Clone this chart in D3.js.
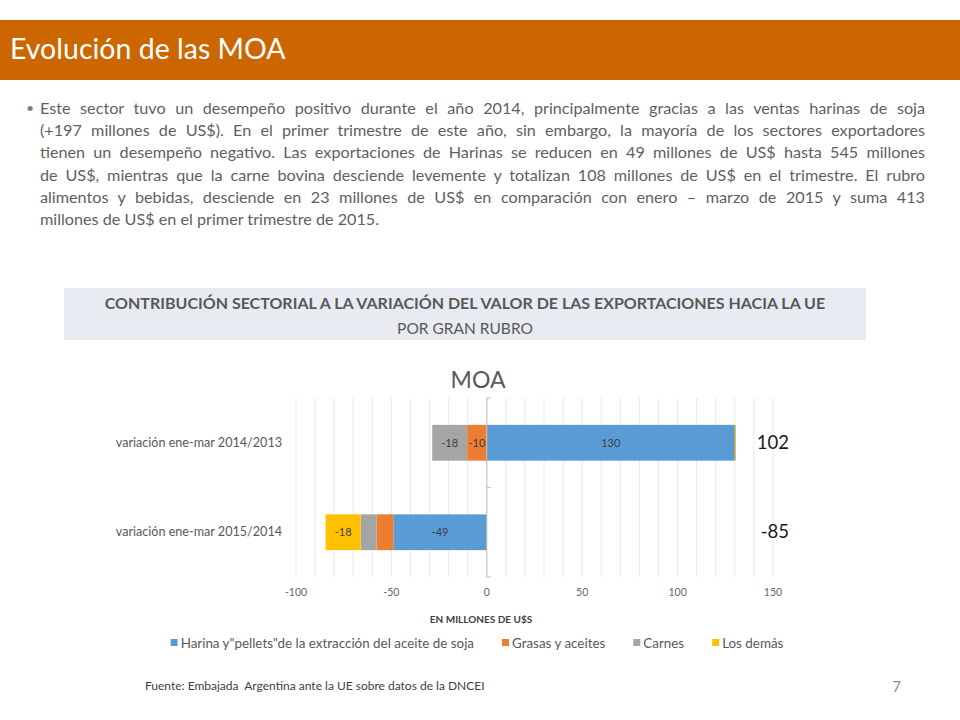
<!DOCTYPE html>
<html>
<head>
<meta charset="utf-8">
<script src="https://cdn.jsdelivr.net/npm/d3@7"></script>
<style>
  body { margin: 0; background: #fff; }
  #page { position: relative; width: 960px; height: 720px; overflow: hidden; font-family: Lato, "Open Sans", sans-serif; }
  #para { position: absolute; left: 40px; top: 97px; width: 885px; font-size: 16.2px; line-height: 22.2px; color: #5f5f5f; }
  #para div { text-align: justify; text-align-last: justify; white-space: nowrap; }
  #para div.last { text-align-last: left; }
  #bullet { position: absolute; left: 26px; top: 97px; font-size: 14px; line-height: 22.2px; color: #7f7f7f; }
  svg { position: absolute; left: 0; top: 0; }
</style>
</head>
<body>
<div id="page"></div>
<script>
// chart values
const categories = ["variación ene-mar 2014/2013", "variación ene-mar 2015/2014"];
const seriesNames = ["Harina y\"pellets\"de la extracción del aceite de soja", "Grasas y aceites", "Carnes", "Los demás"];
const harina = [130, -49];
const grasas = [-10.3, -8.7];
const carnes = [-18.3, -8.4];
const losDemas = [0.6, -18.4];
const totals = [102, -85];
const tickValues = [-100, -50, 0, 50, 100, 150];
const colors = ["#5B9BD5", "#ED7D31", "#A5A5A5", "#FFC000"];

const paraLines = [
  "Este sector tuvo un desempeño positivo durante el año 2014, principalmente gracias a las ventas harinas de soja",
  "(+197 millones de US$).  En el primer trimestre de este año, sin embargo, la mayoría de los sectores exportadores",
  "tienen un desempeño negativo. Las exportaciones de Harinas se reducen en 49 millones de US$ hasta 545 millones",
  "de US$, mientras que la carne bovina desciende levemente y totalizan 108 millones de US$ en el trimestre. El rubro",
  "alimentos y bebidas, desciende en 23 millones de US$ en comparación con enero – marzo de 2015 y suma 413",
  "millones de US$ en el primer trimestre de 2015."
];

const page = d3.select("#page");

// paragraph text, one div per line so the breaks match
page.append("div").attr("id", "bullet").text("•");
page.append("div").attr("id", "para")
  .selectAll("div").data(paraLines).join("div")
  .attr("class", (d, i) => i === paraLines.length - 1 ? "last" : null)
  .text(d => d);

const svg = page.append("svg").attr("width", 960).attr("height", 720);

// header band
svg.append("rect").attr("x", 0).attr("y", 20).attr("width", 960).attr("height", 60).attr("fill", "#CC6600");
svg.append("text").attr("x", 10).attr("y", 59).attr("fill", "#fff")
  .style("font-size", "28.5px").text("Evolución de las MOA");

// chart caption box
svg.append("rect").attr("x", 64).attr("y", 288).attr("width", 802).attr("height", 52).attr("fill", "#E8ECF2");
svg.append("text").attr("x", 465).attr("y", 309).attr("text-anchor", "middle")
  .attr("fill", "#595959").style("font-size", "16px").style("font-weight", "bold")
  .text("CONTRIBUCIÓN SECTORIAL A LA VARIACIÓN DEL VALOR DE LAS EXPORTACIONES HACIA LA UE");
svg.append("text").attr("x", 465).attr("y", 334).attr("text-anchor", "middle")
  .attr("fill", "#595959").style("font-size", "15.5px").text("POR GRAN RUBRO");

// scales
var x = d3.scaleLinear().domain([-100, 150]).range([296, 773]);
var y = d3.scaleBand().domain(categories).range([398, 577]).paddingInner(0.6).paddingOuter(0.3);

// chart title
svg.append("text").attr("x", 478).attr("y", 388).attr("text-anchor", "middle")
  .attr("fill", "#595959").style("font-size", "23px").text("MOA");

// vertical gridlines every 10
svg.append("g").selectAll("line").data(d3.range(-100, 151, 10)).join("line")
  .attr("x1", d => x(d)).attr("x2", d => x(d))
  .attr("y1", 398).attr("y2", 577)
  .attr("stroke", "#e9e9e9").attr("stroke-width", 1);

// stacked bars
const rows = categories.map((c, i) => ({
  cat: c, h: harina[i], g: grasas[i], c2: carnes[i], o: losDemas[i]
}));
const keys = ["h", "g", "c2", "o"];
const stack = d3.stack().keys(keys).offset(d3.stackOffsetDiverging);
const layers = stack(rows);

const bars = svg.append("g");
layers.forEach((layer, k) => {
  const key = keys[k];
  bars.append("g").attr("fill", colors[k])
    .selectAll("rect").data(layer).join("rect")
    .attr("x", d => x(Math.min(d[0], d[1])))
    .attr("width", d => Math.abs(x(d[1]) - x(d[0])))
    .attr("y", d => y(d.data.cat))
    .attr("height", y.bandwidth());
  bars.append("g").selectAll("text")
    .data(layer.filter(d => Math.abs(d.data[key]) >= 10)).join("text")
    .attr("x", d => x((d[0] + d[1]) / 2))
    .attr("y", d => y(d.data.cat) + y.bandwidth() / 2 + 4)
    .attr("text-anchor", "middle").attr("fill", "#404040")
    .style("font-size", "11px")
    .text(d => Math.round(d.data[key]));
});

// zero axis with category ticks
const axisG = svg.append("g").attr("stroke", "#bfbfbf");
axisG.append("line").attr("x1", x(0)).attr("x2", x(0)).attr("y1", 398).attr("y2", 577);
axisG.selectAll("line.tk").data([398, 487.5, 577]).join("line").attr("class", "tk")
  .attr("x1", x(0)).attr("x2", x(0) + 4).attr("y1", d => d).attr("y2", d => d);

// category labels
svg.append("g").selectAll("text").data(categories).join("text")
  .attr("x", 282).attr("y", d => y(d) + y.bandwidth() / 2 + 4)
  .attr("text-anchor", "end").attr("fill", "#595959").style("font-size", "12.6px")
  .text(d => d);

// totals
svg.append("g").selectAll("text").data(totals).join("text")
  .attr("x", 789).attr("y", (d, i) => y(categories[i]) + y.bandwidth() / 2 + 6)
  .attr("text-anchor", "end").attr("fill", "#1a1a1a").style("font-size", "18.5px")
  .text(d => d);

// x tick labels
svg.append("g").selectAll("text").data(tickValues).join("text")
  .attr("x", d => x(d)).attr("y", 596).attr("text-anchor", "middle")
  .attr("fill", "#666").style("font-size", "10.5px").text(d => d);

svg.append("text").attr("x", 481).attr("y", 623).attr("text-anchor", "middle")
  .attr("fill", "#404040").style("font-size", "10px").style("font-weight", "bold")
  .text("EN MILLONES DE U$S");

// legend
const legend = svg.append("g");
let lx = 0;
seriesNames.forEach((name, k) => {
  const item = legend.append("g").attr("transform", "translate(" + lx + ",0)");
  item.append("rect").attr("x", 0).attr("y", -9).attr("width", 7).attr("height", 7).attr("fill", colors[k]);
  const t = item.append("text").attr("x", 10).attr("y", 0)
    .attr("fill", "#595959").style("font-size", "13.4px").text(name);
  lx += 10 + t.node().getComputedTextLength() + 28;
});
const legendW = lx - 28;
legend.attr("transform", "translate(" + (477 - legendW / 2) + ",648)");

// footer
svg.append("text").attr("x", 145).attr("y", 690).attr("fill", "#404040")
  .style("font-size", "12px").attr("xml:space", "preserve")
  .text("Fuente: Embajada  Argentina ante la UE sobre datos de la DNCEI");
svg.append("text").attr("x", 901).attr("y", 692).attr("text-anchor", "end")
  .attr("fill", "#8c8c8c").style("font-size", "15px").text("7");
</script>
</body>
</html>
